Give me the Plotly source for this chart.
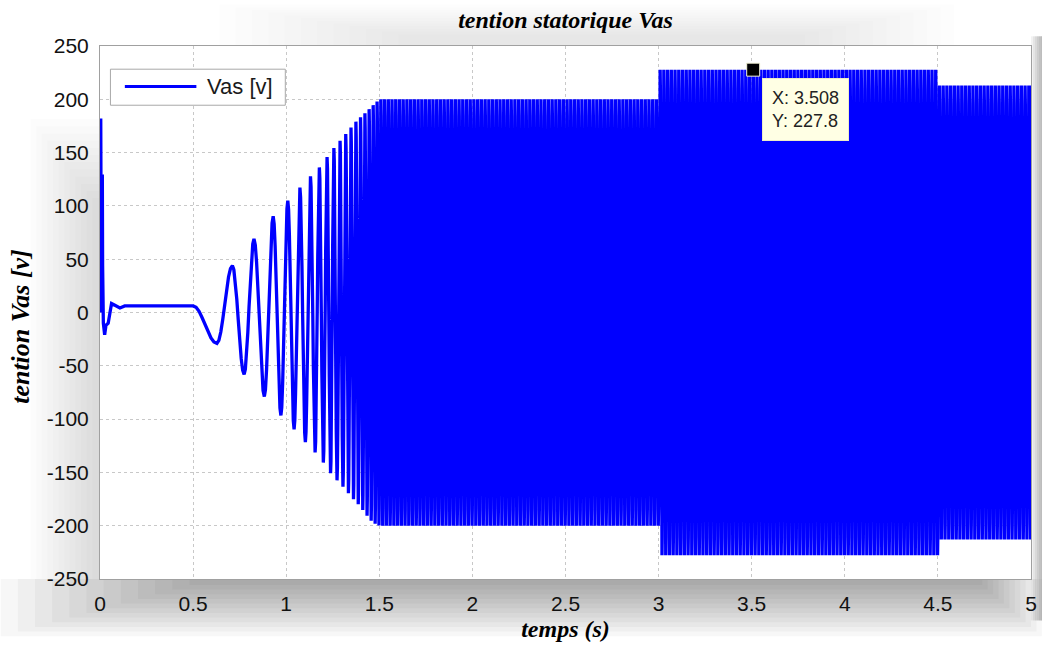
import numpy as np
import plotly.graph_objects as go

# ---------------------------------------------------------------- data
# switch-on transient (time in s, voltage in V)
t_onset = [0.0, 0.0005, 0.004, 0.005, 0.0125, 0.014, 0.018, 0.025, 0.032,
           0.044, 0.053, 0.062, 0.080, 0.107, 0.133, 0.500]
v_onset = [0.0, 182.0, 182.0, 128.0, 128.0, 44.0, -10.0, -21.0, -12.0,
           -10.0, 0.6, 8.4, 6.8, 4.3, 6.2, 6.2]

# first slow swings of the run-up (successive extrema)
t_swing = [0.500, 0.628, 0.711, 0.774, 0.827]
v_swing = [6.2, -29.0, 44.0, -58.0, 69.0]

# upper / lower envelope while the machine accelerates
t_env_up = [0.827, 0.909, 0.973, 1.042, 1.100, 1.155, 1.200, 1.227, 1.273,
            1.309, 1.345, 1.382, 1.418, 1.464, 1.500]
v_env_up = [69.0, 86.0, 99.0, 110.5, 122.7, 132.0, 140.0, 148.0, 158.0,
            165.0, 173.0, 180.6, 186.0, 194.0, 200.0]
t_env_lo = [0.864, 0.945, 1.009, 1.069, 1.118, 1.173, 1.213, 1.245, 1.282,
            1.318, 1.355, 1.391, 1.427, 1.464, 1.500]
v_env_lo = [-75.0, -92.0, -103.0, -115.0, -124.7, -134.5, -144.0, -152.6,
            -159.0, -166.0, -174.0, -180.6, -189.0, -197.0, -200.0]

# stator frequency during the run-up (s, Hz)
t_freq = [0.827, 0.90, 1.00, 1.10, 1.20, 1.30, 1.40, 1.50]
f_freq = [9.0, 11.0, 14.5, 18.0, 25.0, 33.0, 42.0, 50.0]

# steady-state peak voltage for each operating interval
seg_start = [1.5, 3.0, 4.5]
seg_end = [3.0, 4.5, 5.0]
seg_amp = [200.0, 227.8, 213.0]

# data cursor
cursor_t = 3.508
cursor_v = 227.8

x_ticks = [0, 0.5, 1, 1.5, 2, 2.5, 3, 3.5, 4, 4.5, 5]
x_ticktext = ["0", "0.5", "1", "1.5", "2", "2.5", "3", "3.5", "4", "4.5", "5"]
y_ticks = [-250, -200, -150, -100, -50, 0, 50, 100, 150, 200, 250]
y_ticktext = ["-250", "-200", "-150", "-100", "-50", "0", "50", "100",
              "150", "200", "250"]
t_end = 5.0


# ---------------------------------------------------------------- signal
def peak_level(t, sign):
    if t < seg_start[0]:
        if sign > 0:
            return float(np.interp(t, t_env_up, v_env_up))
        return float(np.interp(t, t_env_lo, v_env_lo))
    for a, b, amp in zip(seg_start, seg_end, seg_amp):
        if a <= t < b:
            return sign * amp
    return sign * seg_amp[-1]


ext_t = list(t_swing)
ext_v = list(v_swing)
sign = -1
t = t_swing[-1]
while t < t_end:
    f = float(np.interp(t, t_freq, f_freq))
    t = t + 0.5 / f
    ext_t.append(min(t, t_end))
    ext_v.append(peak_level(t, sign))
    sign = -sign

ts = list(t_onset[:-1])
vs = list(v_onset[:-1])
s = np.linspace(0.0, 1.0, 9)
for (t0, v0, t1, v1) in zip(ext_t[:-1], ext_v[:-1], ext_t[1:], ext_v[1:]):
    seg_t = t0 + s[:-1] * (t1 - t0)
    seg_v = v0 + (v1 - v0) * (1 - np.cos(np.pi * s[:-1])) / 2
    ts.extend(seg_t.tolist())
    vs.extend(seg_v.tolist())
ts.append(ext_t[-1])
vs.append(ext_v[-1])

# ---------------------------------------------------------------- figure
W, H = 1048, 648
L, R, T, B = 100, 11, 46, 62
PW, PH = W - L - R, H - T - B


def px(xp):
    return (xp - L) / PW


def py(yp):
    return (H - B - yp) / PH


fig = go.Figure()
fig.add_trace(go.Scatter(
    x=ts, y=vs, mode="lines",
    line=dict(color="#0000ff", width=3.3),
    showlegend=False, hoverinfo="skip",
))
fig.add_trace(go.Scatter(
    x=[cursor_t], y=[cursor_v], mode="markers",
    marker=dict(symbol="square", size=13, color="black",
                line=dict(color="#f4f4d8", width=1)),
    showlegend=False, hoverinfo="skip",
))

shapes = []


def shade(x0, y0, x1, y1, a):
    shapes.append(dict(type="rect", xref="paper", yref="paper",
                       x0=px(x0), x1=px(x1), y0=py(y0), y1=py(y1),
                       fillcolor="rgba(0,0,0,%.3f)" % a,
                       line=dict(width=0), layer="below"))


# soft drop shadow round the axes
n = 12
for i in range(n):
    k = i / (n - 1)
    # bottom band
    shade(0 + 190 * k, H - B, W - 60 * k, H - 52 * k - 4, 0.03)
    # left band
    shade(30 + 62 * k, 120 + 80 * k, L, H - B, 0.012)
    # top band
    shade(220 + 180 * k, 4 + 30 * k, 960 - 150 * k, T, 0.008)
# right edge
for i in range(6):
    shade(W - R + 2 * i, T - 10, W, H - 20, 0.05)

# legend box
shapes.append(dict(type="rect", xref="paper", yref="paper",
                   x0=px(110.5), x1=px(286.5), y0=py(106), y1=py(69.5),
                   fillcolor="white", line=dict(color="#a8a8a8", width=1)))
shapes.append(dict(type="line", xref="paper", yref="paper",
                   x0=px(125), x1=px(197), y0=py(87), y1=py(87),
                   line=dict(color="#0000ff", width=3)))

serif = "Liberation Serif, Times New Roman, serif"
annotations = [
    dict(text="Vas [v]", xref="paper", yref="paper", x=px(206), y=py(87),
         xanchor="left", yanchor="middle", showarrow=False,
         font=dict(family="Liberation Sans, Arial", size=22, color="#1a1a1a")),
    dict(text="X: 3.508<br>Y: 227.8", xref="x", yref="y",
         x=cursor_t, y=cursor_v, xanchor="left", yanchor="top",
         xshift=9, yshift=-8, showarrow=False, align="left",
         bgcolor="#ffffe4", bordercolor="#ecebc8", borderwidth=1,
         borderpad=9,
         font=dict(family="Liberation Sans, Arial", size=18, color="#222")),
    dict(text="tention Vas [v]", xref="paper", yref="paper",
         x=px(20), y=py(330), xanchor="center", yanchor="middle",
         textangle=-90, showarrow=False,
         font=dict(family=serif, size=26, color="black",
                   style="italic", weight="bold")),
]

fig.update_layout(
    width=W, height=H,
    margin=dict(l=L, r=R, t=T, b=B),
    paper_bgcolor="white", plot_bgcolor="white",
    title=dict(text="tention statorique Vas", x=0.5, xref="paper",
               y=1 - 20 / H, yanchor="middle",
               font=dict(family=serif, size=24, color="black",
                         style="italic", weight="bold")),
    shapes=shapes, annotations=annotations,
    xaxis=dict(range=[0, t_end], tickvals=x_ticks, ticktext=x_ticktext,
               showgrid=True, gridcolor="#c8c8c8", griddash="dot",
               gridwidth=1, zeroline=False, showline=True,
               linecolor="#a0a0a0", linewidth=1, mirror=True, ticks="",
               ticklabelstandoff=6,
               tickfont=dict(family="Liberation Sans, Arial", size=21,
                             color="#111"),
               title=dict(text="temps (s)", standoff=5,
                          font=dict(family=serif, size=24, color="black",
                                    style="italic", weight="bold"))),
    yaxis=dict(range=[-250, 250], tickvals=y_ticks, ticktext=y_ticktext,
               showgrid=True, gridcolor="#c8c8c8", griddash="dot",
               gridwidth=1, zeroline=False, showline=True,
               linecolor="#a0a0a0", linewidth=1, mirror=True, ticks="",
               ticklabelstandoff=6,
               tickfont=dict(family="Liberation Sans, Arial", size=21,
                             color="#111")),
)

fig.write_html("out.html")
